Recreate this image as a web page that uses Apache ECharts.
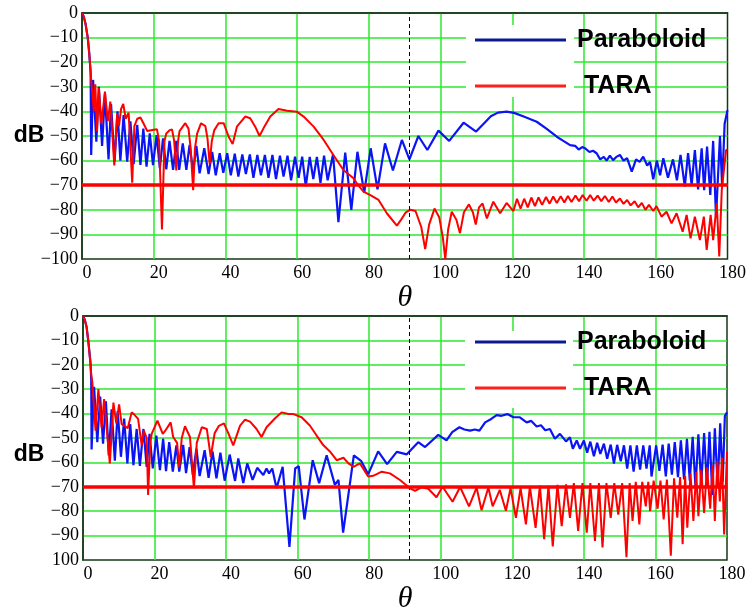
<!DOCTYPE html>
<html>
<head>
<meta charset="utf-8">
<script src="https://cdn.jsdelivr.net/npm/echarts/dist/echarts.min.js"></script>
<style>
html, body { margin: 0; padding: 0; background: #fff; }
#chart { width: 749px; height: 615px; }
</style>
</head>
<body>
<div id="chart"></div>
<script>
// angle (deg) / level (dB) pairs
var paraTop = [
	[0,0],[0.5,-1.5],[1.0,-4.5],[1.6,-10],[2.0,-16],[2.4,-24],[2.56,-57.7],
	[3.1,-27.2],[4.0,-52.3],[4.7,-30],[5.6,-54],[6.4,-33],[7.4,-59.5],[8.1,-37],[9.1,-60.4],
	[9.9,-40],[10.7,-60],[11.6,-41.5],[12.6,-60.4],[13.5,-44],[14.4,-61.4],[15.4,-45.5],[16.3,-61.8],
	[17.1,-47],[18.0,-62.5],[18.9,-48.9],[19.8,-61.8],[20.8,-49.6],[21.7,-63.1],[22.6,-51],[23.5,-63.6],
	[24.4,-52],[25.4,-63.8],[26.3,-52],[27.1,-63.8],[28.1,-53],[29.1,-63.8],[30.0,-53.6],[31.0,-64.5],
	[31.9,-54],[32.8,-65.2],[34.1,-55],[35.3,-65.5],[36.3,-56.5],[37.3,-66],[38.4,-57],[39.4,-65],
	[40.5,-57],[41.5,-66],[42.6,-57.2],[43.6,-66.5],[44.7,-57.5],[45.7,-65.5],[46.8,-57.5],[47.8,-67],
	[48.9,-57.7],[49.9,-66],[51.0,-57.7],[52.0,-67],[53.1,-57.7],[54.1,-67.5],[55.2,-58],[56.2,-66.5],
	[57.3,-58],[58.3,-68],[59.4,-58.4],[60.4,-67],[61.4,-58.4],[62.4,-70.5],[63.5,-58.5],[64.5,-67.5],
	[65.5,-58.5],[66.5,-69],[67.5,-58],[68.5,-68],[70.0,-57.5],[71.5,-85],[73.4,-56.8],[75.1,-80],
	[76.8,-56.4],[78.7,-73],[80.5,-55],[82.4,-71.7],[84.5,-53],[86.7,-64],[89.2,-51.6],[91.3,-59.5],
	[93.8,-50],[96.3,-55.7],[99.4,-47.8],[102.4,-52],[106.4,-44.6],[109.9,-48.2],
	[112,-45],[114,-42],[116,-40.5],[118.4,-40.1],[120.5,-40.6],[123,-42],[126.8,-44.2],[129.5,-47],
	[132.4,-50.3],[134,-51.8],[136.1,-53.7],[137.5,-54],[138.5,-55.5],[139.5,-54.5],[140.3,-55],
	[141.5,-56.5],[142.5,-56],[143.5,-57],[144.5,-59.5],[145.5,-58.5],[146.3,-60],[147.2,-58],
	[148.1,-59.8],[149,-58.5],[150,-57.7],[151,-60],[152,-59],[153.3,-64.5],[154.5,-59.5],[155.5,-60.5],
	[156.5,-58.4],[157.6,-62],[158.4,-60.5],[159.3,-67.6],[160.3,-60],[161.2,-66],[162.1,-59],
	[163.4,-67],[164.8,-59.5],[165.9,-68],[166.9,-57.7],[168.1,-70.6],[169.0,-57],[170.0,-70],
	[170.9,-55.7],[171.8,-71.7],[172.8,-55],[173.5,-72],[174.3,-54.3],[175.2,-74],[176.0,-52],
	[176.8,-83],[177.9,-50],[178.5,-70],[179.2,-45],[180,-39.5]
];
var taraTop = [
	[0,0],[0.5,-1.5],[1.0,-4.5],[1.6,-10],[2.0,-16],[2.3,-22],[2.6,-28],[3.3,-40],[3.7,-29],
	[4.2,-48],[4.7,-30.5],[5.4,-45],[6.4,-32],[7.2,-44],[7.9,-36],[9.0,-62],[9.8,-41],[10.3,-46],
	[10.9,-39],[11.5,-37],[12.2,-43],[13.0,-40.5],[14.0,-69],[14.6,-46],[15.4,-43],[16.3,-42.5],
	[17.2,-45],[18.2,-48],[19.6,-47.6],[20.9,-47.3],[21.5,-52],[22.3,-88],[23.0,-52],[23.5,-49],
	[24.5,-47.6],[25.1,-47.3],[25.7,-52],[26.3,-64],[26.8,-52],[27.2,-48],[28.8,-44.8],[29.7,-47],
	[30.3,-55],[31.0,-72],[31.5,-55],[32.1,-49],[33.2,-44.8],[34.4,-46],[35.0,-51],[35.6,-61.4],
	[36.2,-52],[36.9,-47.6],[38.1,-44.8],[39.5,-44.8],[40.9,-50.3],[42.0,-53.3],[43.2,-46.2],
	[45.5,-42.1],[46.9,-42.8],[48.3,-46.2],[49.5,-50],[50.6,-46.9],[52.5,-42.1],[54.8,-39],
	[57.2,-39.7],[59.9,-40.1],[61.8,-42.1],[64.6,-46.2],[67.4,-51.6],[70.1,-57.7],[72.9,-63.8],
	[75.7,-67.2],[77,-70],[78.5,-72.6],[80.4,-74],[82.7,-76],[85.0,-81.4],[87.8,-86.4],[89.0,-84],
	[90.3,-81],[91.5,-80],[93.0,-80.5],[94.6,-87],[95.7,-96],[96.8,-86],[98.3,-79.5],[99.6,-83],
	[100.6,-91],[101.3,-100],[102.1,-88],[103.1,-80.8],[104.4,-84],[105.4,-89.5],[106.5,-81],
	[107.9,-77.8],[109.0,-81],[109.8,-86],[110.7,-79],[111.7,-77.4],[112.9,-83.5],[114.7,-76.7],
	[116.6,-81.4],[118.4,-77.2],[120.3,-80.5],[121.3,-75.5],[122.3,-79.5],[123.3,-75.5],[124.3,-79],
	[125.3,-75],[126.3,-78.5],[127.3,-75],[128.3,-78],[129.4,-74.8],[130.4,-77.5],[131.4,-74.6],
	[132.4,-77.2],[133.5,-74.5],[134.5,-77],[135.5,-74.4],[136.5,-76.8],[137.6,-74.2],[138.6,-76.5],
	[139.6,-74],[140.7,-76.3],[141.7,-74],[142.7,-76.3],[143.8,-74.2],[144.8,-76.5],[145.8,-74.4],
	[146.9,-76.8],[147.9,-74.6],[148.9,-77],[150,-75.4],[151,-77.6],[152,-76],[153,-78.2],
	[154.1,-76.5],[155.1,-79],[156.1,-77.2],[157.1,-80],[158.1,-78],[159.3,-80.5],[160.2,-78.5],
	[161.6,-82.8],[163.0,-80.8],[164.4,-85.5],[165.8,-81.4],[167.5,-88.9],[168.6,-82.1],[169.7,-91.6],
	[170.9,-82.8],[172.3,-92.3],[173.4,-82.8],[174.2,-96.3],[175.3,-82.1],[176.0,-92.3],[177.0,-77.4],
	[177.7,-99],[178.4,-72],[179.6,-55.7],[180,-55.7]
];
var paraBot = [
	[0,0],[0.5,-1.5],[1.0,-4.5],[1.5,-10.5],[2.1,-19.3],[2.3,-26],[2.4,-54.7],[3.1,-29],[4.0,-51.7],
	[4.8,-33],[5.6,-52.3],[6.4,-35],[7.2,-57.1],[8.0,-38.2],[8.9,-59.3],[9.7,-39],[10.6,-57.7],
	[11.5,-42],[12.4,-60.4],[13.2,-44.3],[14.1,-61.1],[15.0,-46.3],[15.9,-61.4],[16.9,-46.3],
	[17.8,-61.8],[18.6,-48.3],[19.5,-62.5],[20.5,-49],[21.5,-63.2],[22.4,-50.3],[23.2,-63.6],
	[24.1,-51.7],[25.1,-63.8],[26.1,-53],[26.9,-63.8],[28.0,-52.8],[28.8,-64.4],[29.8,-53.7],
	[30.7,-65.1],[31.7,-54.4],[32.6,-65.6],[34.0,-55],[35.1,-66.3],[36.2,-55.5],[37.3,-66.5],
	[38.4,-56],[39.6,-67.5],[41.0,-56.8],[42.5,-67.6],[43.4,-58.4],[44.8,-68.5],[45.9,-60.4],
	[47.4,-67.2],[48.7,-62.2],[50.4,-65.2],[51.3,-62.5],[52.0,-64.5],[52.9,-62.5],[54.1,-70.6],
	[55.8,-61.8],[57.7,-94.6],[59.3,-62.5],[60.3,-61.5],[61.9,-83.4],[64.2,-59.1],[66.0,-68.5],
	[68.1,-57.1],[70.4,-69.2],[71.4,-67.2],[72.7,-88.8],[75.7,-57.1],[77.8,-59.5],[79.7,-64.9],
	[82.5,-55.5],[85.0,-60.7],[87.7,-55.7],[90.5,-56.7],[93.7,-51.7],[95.6,-53.7],[99.3,-48.7],
	[101.6,-51],[103.2,-47.6],[105.2,-45.6],[106.6,-46.5],[108.2,-47],[109.5,-46.5],[110.8,-47],
	[112.4,-43.6],[114.1,-42.2],[115.6,-40.6],[117,-40.9],[118.6,-40.2],[120.3,-41.5],[122.1,-41.5],
	[124,-43.6],[125.3,-43],[126.8,-45.3],[128,-44.8],[129.2,-46.8],[130.5,-46.3],[131.9,-50.3],
	[133.3,-48.3],[135.0,-51.4],[136.1,-49.7],[136.9,-54.4],[138,-51],[138.9,-54.4],[140,-51],
	[140.9,-56],[141.8,-51.5],[142.8,-57.5],[143.7,-52],[144.6,-56.5],[145.6,-52.3],[146.5,-58.5],
	[147.5,-52.7],[148.4,-60.5],[149.3,-52.8],[150.3,-59.5],[151.2,-53],[152.1,-62.5],[153.0,-53],
	[153.9,-63.8],[154.8,-53],[155.7,-63],[156.6,-53],[157.5,-62.5],[158.4,-53],[158.9,-65.8],
	[160.2,-53],[161.1,-63.5],[162.0,-52.7],[162.9,-65.7],[163.7,-52.3],[164.6,-65],[165.4,-51.7],
	[166.3,-66],[167.1,-51],[168.0,-67],[168.8,-50.3],[169.6,-67.5],[170.4,-49.5],[171.2,-70.5],
	[172.0,-48.5],[172.8,-69],[173.6,-48],[174.4,-70],[175.1,-47.5],[175.9,-73.3],[176.6,-46],
	[177.4,-70],[178.1,-44],[178.8,-68],[179.4,-41],[180,-39.5]
];
var taraBot = [
	[0,0],[0.5,-1.5],[1.0,-4.5],[1.5,-10.5],[2.0,-18],[2.3,-24],[2.6,-27],[3.1,-26.7],[3.5,-47],
	[4.3,-30],[4.6,-29.4],[5.2,-46],[5.9,-34.1],[6.4,-34.8],[7.5,-60.4],[8.5,-35.5],[9.3,-44],
	[10.1,-36.2],[10.8,-44.3],[11.6,-45],[12.5,-46],[13.6,-39.5],[14.4,-40.5],[15.4,-42.2],
	[16.4,-53],[17.0,-47],[17.8,-50],[18.2,-73.3],[18.8,-52],[19.2,-48.3],[20.8,-42.9],[22.3,-48.3],
	[23.0,-47],[24.5,-43.6],[25.2,-49.6],[26.3,-52],[26.9,-62],[27.6,-50],[28.5,-45.2],[29.9,-49.6],
	[31.0,-70.6],[31.8,-52],[33.2,-45.6],[34.6,-46.3],[35.7,-57.7],[36.8,-48],[38.0,-45],[39.4,-44],
	[40.6,-48],[42.0,-53],[43.9,-44.9],[45.3,-42.5],[46.7,-43.3],[48.5,-46.3],[49.9,-49.6],
	[51.3,-45.6],[53.7,-41.9],[55.5,-39.5],[57.4,-40.2],[58.8,-40.2],[61.1,-41.5],[63.4,-44.9],
	[65.3,-49],[67.2,-53],[69.0,-55.5],[70.9,-59.1],[72.8,-58.1],[74.2,-60.4],[75.6,-61.8],
	[77.4,-60.4],[79.7,-65.8],[81.1,-65.5],[83.5,-63.8],[85.8,-64.5],[88.6,-67.2],[91.4,-70.6],
	[92.8,-71.7],[94.6,-70.2],[96.5,-70.8],[98.8,-74.3],[100.5,-70],[103.3,-76.1],[105.4,-70.1],
	[107.9,-78],[110.0,-70.3],[111.4,-79.6],[113.3,-70.3],[114.5,-78],[116.5,-71.3],[118.2,-79.8],
	[119.5,-70.6],[121.0,-82.7],[122.3,-70.6],[123.8,-85.4],[124.9,-69.9],[126.5,-86.8],[127.7,-69.5],
	[128.9,-91.5],[130.1,-69.5],[131.3,-94.4],[132.6,-69.2],[133.8,-86.1],[135.0,-69],[136.1,-82.7],
	[137.2,-68.5],[138.4,-88.1],[139.6,-68.5],[140.8,-88.8],[141.8,-68.5],[143.1,-92.2],[144.2,-68.5],
	[145.2,-94.9],[146.3,-68.5],[147.5,-82.7],[148.5,-68.5],[149.6,-81.4],[150.7,-68.5],[151.9,-98.9],
	[152.8,-68.5],[153.6,-84],[154.5,-68],[155.5,-85.4],[156.3,-68],[157.3,-78],[158.0,-68],
	[158.5,-80],[159.5,-67.5],[160.6,-79],[161.4,-67.5],[162.3,-83.4],[163.2,-67],[164.3,-98.2],
	[165.2,-66.5],[166.1,-82.7],[166.9,-66],[167.6,-93.5],[168.3,-65.5],[168.9,-86.8],[169.8,-64.5],
	[170.6,-84],[171.4,-64],[172.0,-82],[172.8,-63],[173.6,-80.7],[174.4,-62],[175.3,-79],[176.0,-61],
	[176.6,-84],[177.3,-59.5],[178.0,-76],[178.6,-58],[179.2,-89.5],[180,-55.7]
];
var seriesNames = ['Paraboloid', 'TARA'];
var thetaRange = [0, 180, 20];   // min, max, step
var dbRange = [-100, 0, 10];
var refLevel = -70;              // red horizontal line
var dashTheta = 91.3;            // dashed vertical marker

var BLUE = '#0a14f5', RED = '#ff0000', GRIDC = '#2ee82e', FRAME = '#143a14';

var chart = echarts.init(document.getElementById('chart'));

function minus(v) {
	return v === 0 ? '0' : '\u2212' + Math.abs(v);
}

function makeX(idx) {
	return {
		gridIndex: idx, type: 'value',
		min: thetaRange[0], max: thetaRange[1], interval: thetaRange[2],
		axisLine: { show: true, lineStyle: { color: FRAME, width: 1.5 } },
		axisTick: { show: false },
		axisLabel: { color: '#000', fontFamily: 'Liberation Serif', fontSize: 18, margin: 5, padding: [0, 0, 0, 10] },
		splitLine: { show: true, showMinLine: false, showMaxLine: false, lineStyle: { color: GRIDC, width: 1.5 } },
		name: '\u03b8', nameLocation: 'middle', nameGap: 24,
		nameTextStyle: { fontFamily: 'Liberation Serif', fontStyle: 'italic', fontSize: 30, color: '#000' }
	};
}

function makeY(idx, fmt) {
	return {
		gridIndex: idx, type: 'value',
		min: dbRange[0], max: dbRange[1], interval: dbRange[2],
		axisLine: { show: true, lineStyle: { color: FRAME, width: 1.5 } },
		axisTick: { show: false },
		axisLabel: { color: '#000', fontFamily: 'Liberation Serif', fontSize: 18, margin: 4, formatter: fmt },
		splitLine: { show: true, showMinLine: false, showMaxLine: false, lineStyle: { color: GRIDC, width: 1.5 } }
	};
}

function makeSeries(name, data, idx, color, width, mark) {
	return {
		name: name, type: 'line', xAxisIndex: idx, yAxisIndex: idx,
		data: data, symbol: 'none', showSymbol: false,
		lineStyle: { color: color, width: width }, itemStyle: { color: color },
		markLine: mark
	};
}

function dashMark() {
	return {
		silent: true, symbol: 'none', label: { show: false },
		lineStyle: { color: '#000', type: [4, 3], width: 1 },
		data: [{ xAxis: dashTheta }]
	};
}

function levelMark() {
	return {
		silent: true, symbol: 'none', label: { show: false },
		lineStyle: { color: RED, type: 'solid', width: 3.5 },
		data: [{ yAxis: refLevel }]
	};
}

function makeLegend(top) {
	return {
		left: 470, top: top, orient: 'vertical', icon: 'rect',
		itemWidth: 91, itemHeight: 3, itemGap: 16, selectedMode: false,
		data: [
			{ name: seriesNames[0], itemStyle: { color: '#0c1a8e' } },
			{ name: seriesNames[1], itemStyle: { color: '#ff1f1f' } }
		],
		formatter: function(n) { return n === 'TARA' ? ' TARA' : n; },
		textStyle: { fontFamily: 'Liberation Sans', fontWeight: 'bold', fontSize: 25, color: '#000', lineHeight: 30, padding: [0, 0, 0, 6] }
	};
}

var option = {
	animation: false,
	backgroundColor: '#fff',
	grid: [
		{ left: 82, top: 13, width: 646, height: 246, show: true, borderColor: FRAME, borderWidth: 1.5 },
		{ left: 83, top: 316, width: 644, height: 247, show: true, borderColor: FRAME, borderWidth: 1.5 }
	],
	xAxis: [makeX(0), makeX(1)],
	yAxis: [
		makeY(0, minus),
		makeY(1, function(v) { return v === -100 ? '100' : minus(v); })
	],
	legend: [makeLegend(20), makeLegend(322)],
	graphic: [
		{ type: 'rect', z: 3, shape: { x: 466, y: 25, width: 108, height: 72 }, style: { fill: '#fff' } },
		{ type: 'rect', z: 3, shape: { x: 465, y: 331, width: 108, height: 77 }, style: { fill: '#fff' } },
		{ type: 'text', z: 3, style: { x: 29, y: 136, text: 'dB', align: 'center', verticalAlign: 'middle', font: 'bold 23px "Liberation Sans"', fill: '#000' } },
		{ type: 'text', z: 3, style: { x: 29, y: 455, text: 'dB', align: 'center', verticalAlign: 'middle', font: 'bold 23px "Liberation Sans"', fill: '#000' } }
	],
	series: [
		makeSeries(seriesNames[0], paraTop, 0, BLUE, 2.2, dashMark()),
		makeSeries(seriesNames[1], taraTop, 0, RED, 2, levelMark()),
		makeSeries(seriesNames[0], paraBot, 1, BLUE, 2.2, dashMark()),
		makeSeries(seriesNames[1], taraBot, 1, RED, 2, levelMark())
	]
};

chart.setOption(option);
</script>
</body>
</html>
